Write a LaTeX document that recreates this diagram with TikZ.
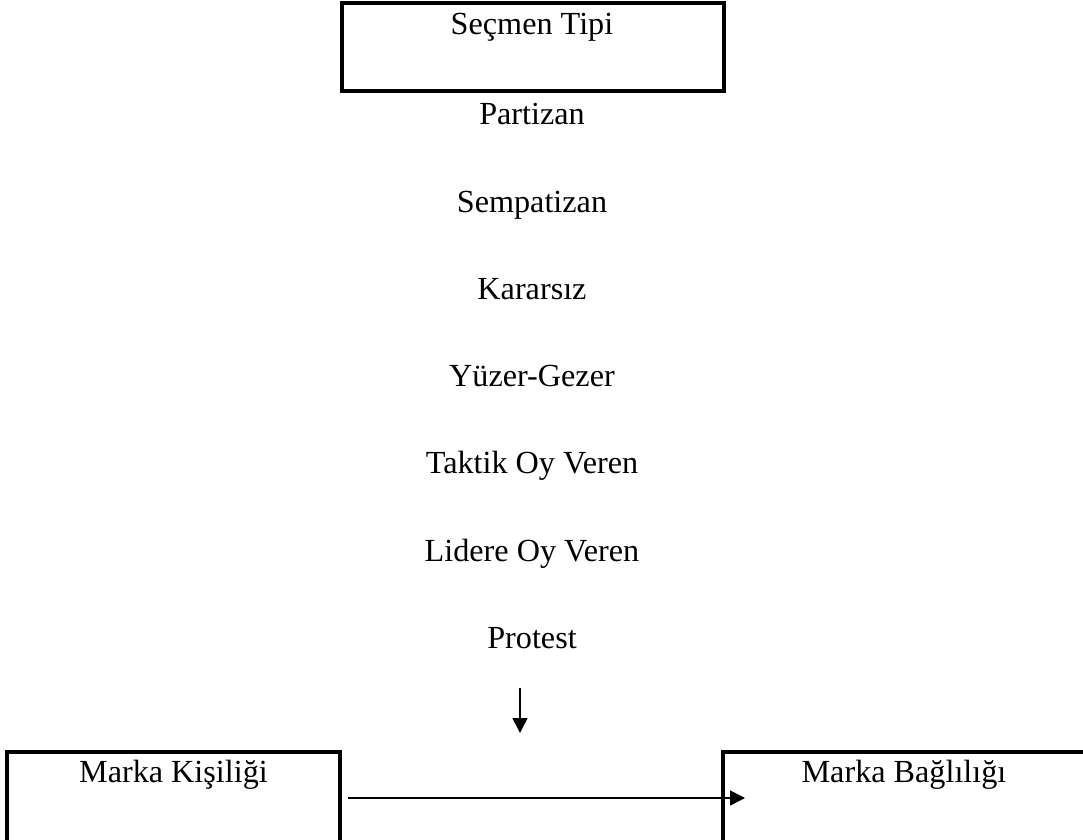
\documentclass[tikz,border=0pt]{standalone}
\usepackage{fontspec}
\setmainfont{Liberation Serif}
\usetikzlibrary{arrows.meta}
\begin{document}
\begin{tikzpicture}[x=0.5pt,y=-0.5pt,
  frame/.style={draw, line width=1.7pt, rectangle, inner sep=0pt},
  caption/.style={font=\fontsize{16.1}{19}\selectfont, anchor=base, inner sep=0pt},
  flow/.style={line width=0.75pt, -{Triangle[length=7.5pt,width=7.5pt]}}]
\useasboundingbox (0,0) rectangle (1083,840);
\clip (0,0) rectangle (1083,840);

% voter type box and its list
\node[frame, minimum width=191pt, minimum height=44pt] (tipbox) at (533,47) {};
\node[caption] (tipi) at (532,35) {Seçmen Tipi};
\node[caption] (t1) at (532,125) {Partizan};
\node[caption] (t2) at (532,212.2) {Sempatizan};
\node[caption] (t3) at (532,299.4) {Kararsız};
\node[caption] (t4) at (532,386.6) {Yüzer-Gezer};
\node[caption] (t5) at (532,473.8) {Taktik Oy Veren};
\node[caption] (t6) at (532,561) {Lidere Oy Veren};
\node[caption] (t7) at (532,648.2) {Protest};

% lower boxes, open at the bottom edge
\node[frame, minimum width=166.5pt, minimum height=74pt] (kisilik) at (173.5,826) {};
\node[caption] (kisiliktxt) at (173.5,782) {Marka Kişiliği};
\node[frame, minimum width=183.5pt, minimum height=74pt] (baglilikbox) at (906.5,826) {};
\node[caption] (baglilik) at (904,782) {Marka Bağlılığı};

% connectors
\coordinate (downA) at (520,688);
\coordinate (downB) at (520,733);
\draw[flow] (downA) -- (downB);
\coordinate (rightA) at (348,798);
\coordinate (rightB) at (745,798);
\draw[flow] (rightA) -- (rightB);
\end{tikzpicture}
\end{document}
